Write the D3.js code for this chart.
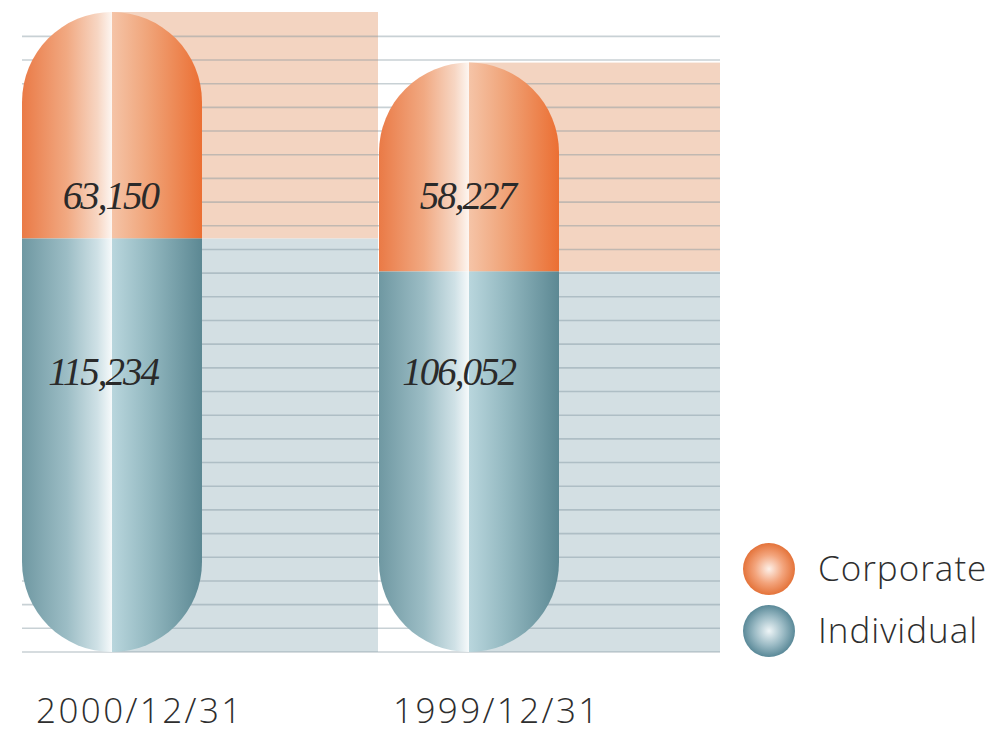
<!DOCTYPE html>
<html>
<head>
<meta charset="utf-8">
<script src="https://cdn.jsdelivr.net/npm/d3@7"></script>
<style>
  html, body { margin: 0; padding: 0; background: #fff; }
  svg { display: block; }
</style>
</head>
<body>
<div class="chart"></div>
<script>
// chart values
const categories = ['2000/12/31', '1999/12/31'];
const corporate = [63150, 58227];
const individual = [115234, 106052];
const seriesNames = ['Corporate', 'Individual'];
const gridStep = 6600;            // spacing of the horizontal rules
const gridCount = 27;

const width = 997, height = 741;
const baseY = 652, plotRight = 720;
const capW = 180, r = capW / 2;

const totals = categories.map((c, i) => corporate[i] + individual[i]);

const x = d3.scaleBand()
  .domain(categories)
  .range([22, 736]);

const y = d3.scaleLinear()
  .domain([0, d3.max(totals)])
  .range([baseY, 12]);

const svg = d3.select('.chart')
  .append('svg')
    .attr('width', width)
    .attr('height', height);

// gradients for the capsule halves and legend dots
const defs = svg.append('defs');
const capColors = {
  Corporate: ['#ea7a46', '#f1a982', '#f7d6c3', '#fdf6f1', '#f5c4a7', '#f0a479', '#eb6f33'],
  Individual: ['#6f98a2', '#9cbdc5', '#cfe1e6', '#f6fafb', '#b9d6dd', '#94b9c1', '#5c8893']
};
Object.keys(capColors).forEach(name => {
  const c = capColors[name];
  const g = defs.append('linearGradient')
    .attr('id', 'cap-' + name)
    .attr('x1', 0).attr('x2', 1).attr('y1', 0).attr('y2', 0);
  [[0, c[0]], [0.25, c[1]], [0.42, c[2]], [0.5, c[3]], [0.5, c[4]], [0.7, c[5]], [1, c[6]]]
    .forEach(s => g.append('stop').attr('offset', s[0]).attr('stop-color', s[1]));
});
const dotColors = { Corporate: ['#fdf0e8', '#f3a47c', '#e4733a'], Individual: ['#eef5f7', '#9dbcc6', '#5a8998'] };
Object.keys(dotColors).forEach(name => {
  const c = dotColors[name];
  const g = defs.append('radialGradient')
    .attr('id', 'dot-' + name)
    .attr('cx', 0.5).attr('cy', 0.5).attr('r', 0.5);
  [[0, c[0]], [0.55, c[1]], [1, c[2]]]
    .forEach(s => g.append('stop').attr('offset', s[0]).attr('stop-color', s[1]));
});

// background panels behind each capsule
const panelRight = (d, i) => i < categories.length - 1 ? x(categories[i + 1]) - 1 : plotRight;

const panels = svg.append('g')
  .selectAll('g')
  .data(categories)
  .enter()
  .append('g');

panels.append('rect')
  .attr('x', d => x(d) + r)
  .attr('width', (d, i) => panelRight(d, i) - x(d) - r)
  .attr('y', (d, i) => y(totals[i]))
  .attr('height', (d, i) => y(individual[i]) - y(totals[i]))
  .attr('fill', '#f3d4c1');

panels.append('rect')
  .attr('x', d => x(d) + r)
  .attr('width', (d, i) => panelRight(d, i) - x(d) - r)
  .attr('y', (d, i) => y(individual[i]))
  .attr('height', (d, i) => y(0) - y(individual[i]))
  .attr('fill', '#d3dfe3');

// horizontal rules
svg.append('g')
  .selectAll('line')
  .data(d3.range(gridCount).map(k => k * gridStep))
  .enter()
  .append('line')
    .attr('x1', 22)
    .attr('x2', plotRight)
    .attr('y1', d => y(d))
    .attr('y2', d => y(d))
    .attr('stroke', '#7d929a')
    .attr('stroke-opacity', 0.42)
    .attr('stroke-width', 1.6);

// capsules: corporate on top with a round cap, individual below with a round bottom
const caps = svg.append('g')
  .selectAll('g')
  .data(categories)
  .enter()
  .append('g');

caps.append('path')
  .attr('d', (d, i) => {
    const x0 = x(d), top = y(totals[i]), split = y(individual[i]);
    return `M${x0},${split}L${x0},${top + r}A${r},${r} 0 0 1 ${x0 + capW},${top + r}L${x0 + capW},${split}Z`;
  })
  .attr('fill', 'url(#cap-Corporate)');

caps.append('path')
  .attr('d', (d, i) => {
    const x0 = x(d), split = y(individual[i]), bot = y(0);
    return `M${x0},${split}L${x0 + capW},${split}L${x0 + capW},${bot - r}A${r},${r} 0 0 1 ${x0},${bot - r}Z`;
  })
  .attr('fill', 'url(#cap-Individual)');

// value labels
const fmt = d3.format(',');
const labelStyle = sel => sel
  .attr('text-anchor', 'end')
  .attr('font-family', '"Liberation Serif", "DejaVu Serif", serif')
  .attr('font-style', 'italic')
  .attr('font-size', 39)
  .attr('letter-spacing', -2)
  .attr('fill', '#2a2a2a');

caps.append('text')
  .attr('x', d => x(d) + 136)
  .attr('y', 209)
  .call(labelStyle)
  .text((d, i) => fmt(corporate[i]));

caps.append('text')
  .attr('x', d => x(d) + 136)
  .attr('y', 385)
  .call(labelStyle)
  .text((d, i) => fmt(individual[i]));

// category labels under the capsules
caps.append('text')
  .attr('x', d => x(d) + 14)
  .attr('y', 723)
  .attr('font-family', '"Open Sans", "Noto Sans", sans-serif')
  .attr('font-weight', 300)
  .attr('font-size', 35)
  .attr('letter-spacing', 2.4)
  .attr('fill', '#2e2e2e')
  .text(d => d);

// legend
const legend = svg.append('g')
  .selectAll('g')
  .data(seriesNames)
  .enter()
  .append('g')
    .attr('transform', (d, i) => `translate(769, ${569 + i * 62})`);

legend.append('circle')
  .attr('r', 26)
  .attr('fill', d => `url(#dot-${d})`);

legend.append('text')
  .attr('x', 49)
  .attr('y', 12)
  .attr('font-family', '"Open Sans", "Noto Sans", sans-serif')
  .attr('font-weight', 300)
  .attr('font-size', 35)
  .attr('letter-spacing', 1)
  .attr('fill', '#2e2e2e')
  .text(d => d);
</script>
</body>
</html>
